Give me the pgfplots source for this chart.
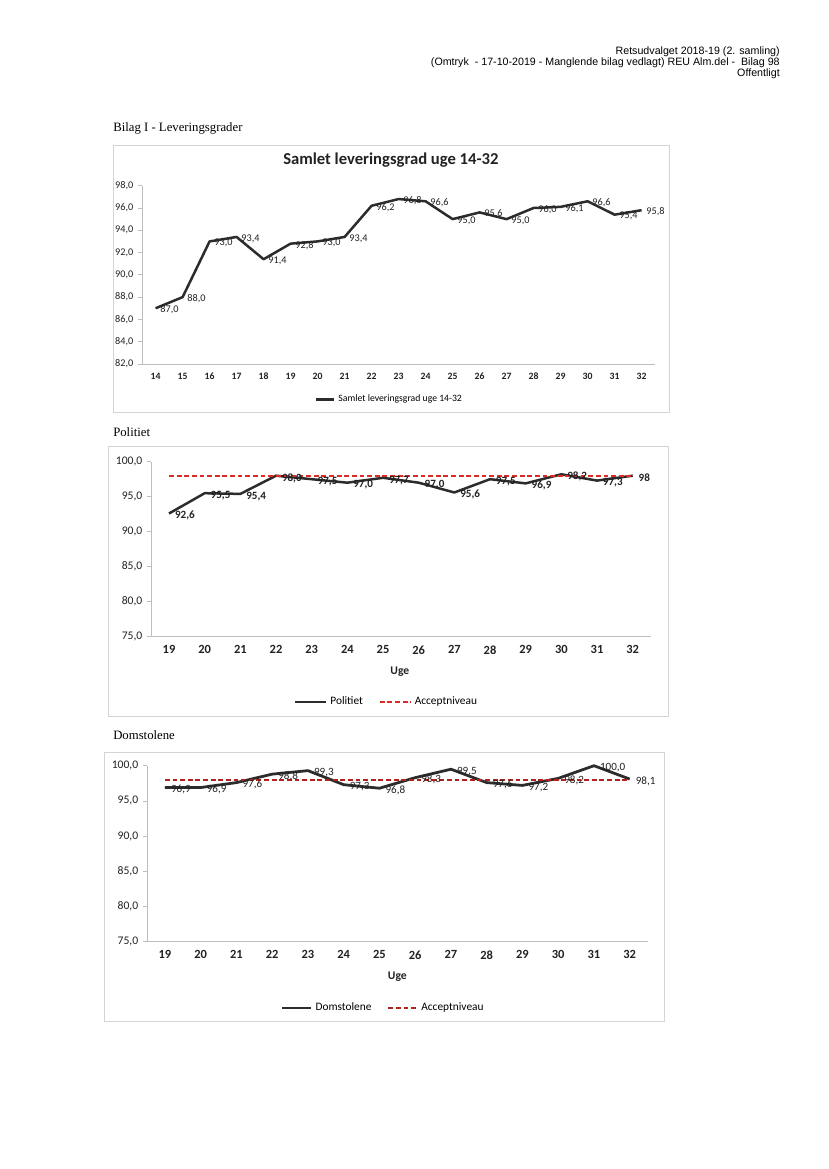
\documentclass[border=0pt]{standalone}
\usepackage{pgfplots}
\pgfplotsset{compat=1.18}
\usepackage{pgfplotstable}
\usepackage{fontspec}
\setmainfont{Carlito}
\newfontfamily\arialf{Liberation Sans}
\newfontfamily\timesf{Liberation Serif}
\definecolor{linegray}{HTML}{2C2C2C}
\definecolor{labgray}{HTML}{222222}
\definecolor{accred}{HTML}{DC2A26}
\definecolor{framegray}{HTML}{D4D4D4}
\definecolor{axgray}{HTML}{BDBDBD}
\def\u{0.2536mm}

\pgfplotstableread{
x y lab
14 87.0 87,0
15 88.0 88,0
16 93.0 93,0
17 93.4 93,4
18 91.4 91,4
19 92.8 92,8
20 93.0 93,0
21 93.4 93,4
22 96.2 96,2
23 96.8 96,8
24 96.6 96,6
25 95.0 95,0
26 95.6 95,6
27 95.0 95,0
28 96.0 96,0
29 96.1 96,1
30 96.6 96,6
31 95.4 95,4
32 95.8 95,8
}\samlet

\pgfplotstableread{
x y lab
19 92.6 92,6
20 95.5 95,5
21 95.4 95,4
22 98.0 98,0
23 97.5 97,5
24 97.0 97,0
25 97.7 97,7
26 97.0 97,0
27 95.6 95,6
28 97.5 97,5
29 96.9 96,9
30 98.2 98,2
31 97.3 97,3
32 98.0 98
}\politi

\pgfplotstableread{
x y lab
19 96.9 96,9
20 96.9 96,9
21 97.6 97,6
22 98.8 98,8
23 99.3 99,3
24 97.3 97,3
25 96.8 96,8
26 98.3 98,3
27 99.5 99,5
28 97.6 97,6
29 97.2 97,2
30 98.2 98,2
31 100.0 100,0
32 98.1 98,1
}\domstol

\pgfplotstableread{
x y
19 98
20 98
21 98
22 98
23 98
24 98
25 98
26 98
27 98
28 98
29 98
30 98
31 98
32 98
}\accept

\pgfplotsset{
  mybase/.style={
    scale only axis, clip=false,
    axis lines*=left,
    axis line style={axgray, line width=0.5pt},
    tick align=outside,
    major tick length=1mm,
    ytick style={axgray, line width=0.5pt},
    xtick style={draw=none},
    /pgf/number format/assume math mode=true,
    yticklabel style={/pgf/number format/fixed, /pgf/number format/fixed zerofill,
      /pgf/number format/precision=1, /pgf/number format/use comma, text=labgray},
    xticklabel style={text=labgray},
    legend cell align=left,
  },
}

\begin{document}
\begin{tikzpicture}
\path[fill=white] (0,0) rectangle ({828*\u},{1169*\u});

% header
\node[anchor=east, align=right, inner sep=0pt, font=\arialf\fontsize{7.7}{7.9}\selectfont]
  at ({780*\u},{(1169-63)*\u})
  {Retsudvalget 2018-19 (2. samling)\\(Omtryk\ \ - 17-10-2019 - Manglende bilag vedlagt) REU Alm.del -\ \ Bilag 98\\Offentligt};

\node[anchor=west, inner sep=0pt, font=\timesf\fontsize{9.2}{11}\selectfont]
  at ({113*\u},{(1169-128)*\u}) {Bilag I - Leveringsgrader};
\node[anchor=west, inner sep=0pt, font=\timesf\fontsize{9.2}{11}\selectfont]
  at ({113*\u},{(1169-432)*\u}) {Politiet};
\node[anchor=west, inner sep=0pt, font=\timesf\fontsize{9.2}{11}\selectfont]
  at ({113*\u},{(1169-735)*\u}) {Domstolene};

% frames
\draw[framegray, line width=0.5pt] ({113*\u},{(1169-145)*\u}) rectangle ({669*\u},{(1169-412)*\u});
\draw[framegray, line width=0.5pt] ({108*\u},{(1169-446)*\u}) rectangle ({668*\u},{(1169-716)*\u});
\draw[framegray, line width=0.5pt] ({104*\u},{(1169-752)*\u}) rectangle ({664*\u},{(1169-1021)*\u});

% ---------------- Chart 1
\begin{axis}[mybase,
  at={({142.1*\u},{(1169-364)*\u})}, anchor=south west,
  width={513*\u}, height={178.3*\u},
  xmin=13.5, xmax=32.5, ymin=82, ymax=98,
  xtick={14,...,32}, ytick={82,84,...,98},
  yticklabel style={font=\fontsize{7.4}{8}\selectfont},
  xticklabel style={font=\bfseries\fontsize{7}{8}\selectfont},
  title={\textbf{Samlet leveringsgrad uge 14-32}},
  title style={at={(axis description cs:0.485,1.099)}, anchor=center, inner sep=0pt,
    font=\fontsize{12}{14}\selectfont, text=labgray},
  legend style={at={(axis description cs:0.483,-0.2)}, anchor=center, draw=none,
    fill=none, font=\fontsize{7}{8}\selectfont, inner sep=0pt},
  legend image code/.code={\draw[#1] (0mm,0mm) -- (4.6mm,0mm);},
]
\addplot[linegray, line width=1.8pt, line join=round,
  nodes near coords, point meta=explicit symbolic,
  nodes near coords style={anchor=west, xshift=0.9mm, yshift=-0.4mm, inner sep=0pt,
    font=\fontsize{7.4}{8}\selectfont, text=labgray}]
  table[x=x, y=y, meta=lab] {\samlet};
\addlegendentry{Samlet leveringsgrad uge 14-32}
\end{axis}

% ---------------- Chart 2
\begin{axis}[mybase,
  at={({151.2*\u},{(1169-636.7)*\u})}, anchor=south west,
  width={499.3*\u}, height={175*\u},
  xmin=18.5, xmax=32.5, ymin=75, ymax=100,
  xtick={19,...,32}, ytick={75,80,...,100},
  yticklabel style={font=\fontsize{8.4}{9}\selectfont},
  xticklabel style={font=\bfseries\fontsize{9}{10}\selectfont},
  xlabel={\textbf{Uge}},
  xlabel style={at={(axis description cs:0.498,-0.2)}, anchor=center, inner sep=0pt,
    font=\fontsize{8.4}{9}\selectfont, text=labgray},
  legend columns=2,
  legend style={at={(axis description cs:0.472,-0.373)}, anchor=center, draw=none,
    fill=none, font=\fontsize{8.2}{9}\selectfont, inner sep=0pt,
    /tikz/every even column/.append style={column sep=3.3mm}},
  legend image code/.code={\draw[#1] (0mm,0mm) -- (7.9mm,0mm);},
]
\addplot[linegray, line width=1.8pt, line join=round,
  nodes near coords, point meta=explicit symbolic,
  nodes near coords style={anchor=west, xshift=1.2mm, yshift=-0.6mm, inner sep=0pt,
    font=\bfseries\fontsize{8}{9}\selectfont, text=labgray}]
  table[x=x, y=y, meta=lab] {\politi};
\addlegendentry{Politiet}
\addplot[accred, line width=1.5pt, dash pattern=on 3.5pt off 2pt]
  table[x=x, y=y] {\accept};
\addlegendentry{Acceptniveau}
\end{axis}

% ---------------- Chart 3
\begin{axis}[mybase,
  at={({147.1*\u},{(1169-941.7)*\u})}, anchor=south west,
  width={500.5*\u}, height={176*\u},
  xmin=18.5, xmax=32.5, ymin=75, ymax=100,
  xtick={19,...,32}, ytick={75,80,...,100},
  yticklabel style={font=\fontsize{8.4}{9}\selectfont},
  xticklabel style={font=\bfseries\fontsize{9}{10}\selectfont},
  xlabel={\textbf{Uge}},
  xlabel style={at={(axis description cs:0.5,-0.2)}, anchor=center, inner sep=0pt,
    font=\fontsize{8.4}{9}\selectfont, text=labgray},
  legend columns=2,
  legend style={at={(axis description cs:0.4725,-0.377)}, anchor=center, draw=none,
    fill=none, font=\fontsize{8.2}{9}\selectfont, inner sep=0pt,
    /tikz/every even column/.append style={column sep=3.3mm}},
  legend image code/.code={\draw[#1] (0mm,0mm) -- (7.4mm,0mm);},
]
\addplot[linegray, line width=2pt, line join=round,
  nodes near coords, point meta=explicit symbolic,
  nodes near coords style={anchor=west, xshift=1.2mm, yshift=-0.5mm, inner sep=0pt,
    font=\fontsize{8}{9}\selectfont, text=labgray}]
  table[x=x, y=y, meta=lab] {\domstol};
\addlegendentry{Domstolene}
\addplot[accred!80!black, line width=1.5pt, dash pattern=on 3.5pt off 2pt]
  table[x=x, y=y] {\accept};
\addlegendentry{Acceptniveau}
\end{axis}
\end{tikzpicture}
\end{document}
